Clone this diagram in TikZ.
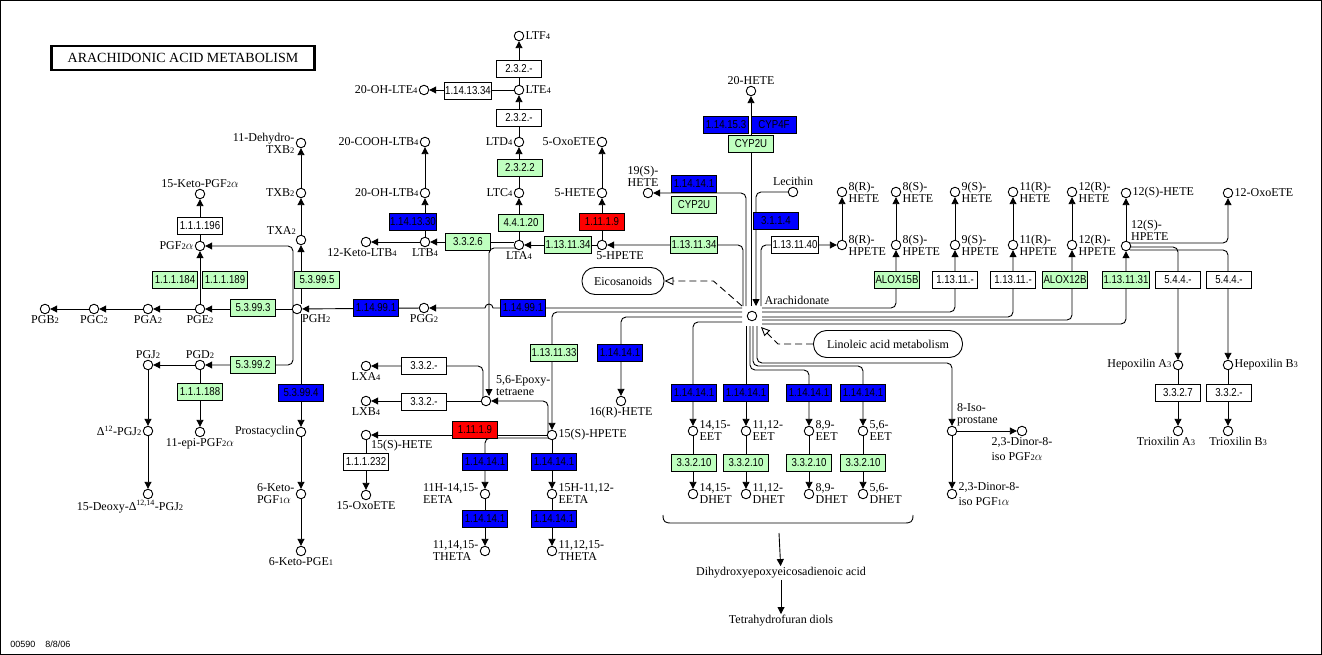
\documentclass[tikz,border=0pt]{standalone}
\usepackage{fontspec}
\setmainfont{Liberation Serif}
\setsansfont{Liberation Sans}
\newfontfamily\enzfam{Liberation Sans}[FakeStretch=0.84]
\usetikzlibrary{arrows.meta,calc,positioning}
\definecolor{kgreen}{HTML}{BFFFBF}
\definecolor{kblue}{HTML}{0000FF}
\definecolor{kred}{HTML}{FF0000}
\newcommand\cpdf{\fontsize{12}{12}\selectfont}
\newcommand\enzf{\enzfam\fontsize{11.5}{11}\selectfont}
\newcommand\dg[1]{{\fontsize{8.5}{8}\selectfont #1}}
\newcommand\alp{$\alpha$}
\tikzset{
  cpd/.style={circle,draw,fill=white,minimum size=9.5pt,inner sep=0pt},
  lab/.style={font=\cpdf,inner sep=1pt},
  ez/.style={draw,fill=white,minimum width=45pt,minimum height=16.5pt,inner sep=1pt,font=\enzf},
  ezg/.style={ez,fill=kgreen},
  ezb/.style={ez,fill=kblue},
  ezr/.style={ez,fill=kred},
  arr/.style={rounded corners=5pt,-{Triangle[length=7pt,width=7pt]}},
  dsh/.style={dashed,dash pattern=on 7pt off 4pt,-{Triangle[open,length=9pt,width=8pt]}},
  mapbox/.style={draw,rounded corners=13pt,minimum height=27pt,font=\cpdf}
}
\begin{document}
\begin{tikzpicture}[x=1pt,y=-1pt,line width=0.9pt]
        \useasboundingbox (0,0) rectangle (1322,655);
        \draw (0.5,0.5) rectangle (1321.5,654.5);
        \node[draw,line width=2.5pt,minimum width=263pt,minimum height=24pt,font=\fontsize{14}{14}\selectfont] (title) at (183,58) {ARACHIDONIC ACID METABOLISM};
        \node[anchor=west,inner sep=0pt,font=\sffamily\fontsize{9}{9}\selectfont] (foot) at (10,644) {00590\hspace{10pt}8/8/06};

        \node[cpd,label={[lab,align=right]left:11-Dehydro-\\TXB\dg{2}}] (dtxb) at (301,143) {};
        \node[cpd,label={[lab]left:TXB\dg{2}}] (txb) at (301,193) {};
        \node[cpd,label={[lab]above left:TXA\dg{2}}] (txa) at (301,240) {};
        \node[cpd,label={[lab]below right:PGH\dg{2}}] (pgh) at (297,309) {};
        \node[cpd,label={[lab]above:15-Keto-PGF\dg{2}\alp}] (kpgf) at (200,194) {};
        \node[cpd,label={[lab]left:PGF\dg{2}\alp}] (pgf) at (200,246) {};
        \node[cpd,label={[lab]below:PGE\dg{2}}] (pge) at (200,309) {};
        \node[cpd,label={[lab]below:PGA\dg{2}}] (pga) at (148,309) {};
        \node[cpd,label={[lab]below:PGC\dg{2}}] (pgc) at (94,309) {};
        \node[cpd,label={[lab]below:PGB\dg{2}}] (pgb) at (45,309) {};
        \node[cpd,label={[lab]above:PGD\dg{2}}] (pgd) at (200,365) {};
        \node[cpd,label={[lab]above:PGJ\dg{2}}] (pgj) at (148,365) {};
        \node[cpd,label={[lab]below:11-epi-PGF\dg{2}\alp}] (epgf) at (200,432) {};
        \node[cpd,label={[lab]left:Δ\textsuperscript{12}-PGJ\dg{2}}] (dpgj) at (148,431) {};
        \node[cpd,label={[lab,xshift=-18pt]below:15-Deoxy-Δ\textsuperscript{12,14}-PGJ\dg{2}}] (ddpgj) at (148,494) {};
        \node[cpd,label={[lab]left:Prostacyclin}] (pgi) at (301,432) {};
        \node[cpd,label={[lab,align=left]left:6-Keto-\\PGF\dg{1}\alp}] (kpgf1) at (301,494) {};
        \node[cpd,label={[lab]below:6-Keto-PGE\dg{1}}] (kpge) at (301,551) {};
        \node[cpd,label={[lab]below:PGG\dg{2}}] (pgg) at (424,308) {};

        \node[cpd,label={[lab]right:LTF\dg{4}}] (ltf) at (519,36) {};
        \node[cpd,label={[lab]right:LTE\dg{4}}] (lte) at (519,90) {};
        \node[cpd,label={[lab]left:20-OH-LTE\dg{4}}] (ohlte) at (424,90) {};
        \node[cpd,label={[lab]left:LTD\dg{4}}] (ltd) at (519,142) {};
        \node[cpd,label={[lab]left:LTC\dg{4}}] (ltc) at (519,193) {};
        \node[cpd,label={[lab]below:LTA\dg{4}}] (lta) at (519,245) {};
        \node[cpd,label={[lab]below:LTB\dg{4}}] (ltb) at (425,242) {};
        \node[cpd,label={[lab,xshift=-4pt]below:12-Keto-LTB\dg{4}}] (kltb) at (366,242) {};
        \node[cpd,label={[lab]left:20-OH-LTB\dg{4}}] (ohltb) at (425,193) {};
        \node[cpd,label={[lab]left:20-COOH-LTB\dg{4}}] (coltb) at (425,142) {};
        \node[cpd,label={[lab]left:5-OxoETE}] (oxo5) at (602,142) {};
        \node[cpd,label={[lab]left:5-HETE}] (hete5) at (602,193) {};
        \node[cpd,label={[lab,xshift=18pt]below:5-HPETE}] (hpete5) at (602,245) {};
        \node[cpd,label={[lab,align=left,xshift=-5pt]above:19(S)-\\HETE}] (hete19) at (648,193) {};
        \node[cpd,label={[lab]above:20-HETE}] (hete20) at (751,91) {};
        \node[cpd,label={[lab]above:Lecithin}] (lec) at (793,192) {};
        \node[cpd,label={[lab,xshift=6pt,yshift=16pt]right:Arachidonate}] (ara) at (752,316) {};

        \foreach \k/\x/\tx in {r8/842/8(R)-,s8/896/8(S)-,s9/955/9(S)-,r11/1013/11(R)-,r12/1072/12(R)-}{
            \node[cpd,label={[lab,align=left]right:\tx\\HETE}] (he\k) at (\x,192) {};
            \node[cpd,label={[lab,align=left]right:\tx\\HPETE}] (hp\k) at (\x,245) {};
            \draw[arr] (hp\k) -- (he\k);
        }
        \node[cpd,label={[lab]right:12(S)-HETE}] (hes12) at (1126,193) {};
        \node[cpd,label={[lab,align=left]above right:12(S)-\\HPETE}] (hps12) at (1126,246) {};
        \node[cpd,label={[lab]right:12-OxoETE}] (oxo12) at (1228,193) {};
        \node[cpd,label={[lab]left:Hepoxilin A\dg{3}}] (hxa) at (1178,365) {};
        \node[cpd,label={[lab]right:Hepoxilin B\dg{3}}] (hxb) at (1228,365) {};
        \node[cpd,label={[lab,xshift=-12pt]below:Trioxilin A\dg{3}}] (tra) at (1178,431) {};
        \node[cpd,label={[lab,xshift=10pt]below:Trioxilin B\dg{3}}] (trb) at (1228,431) {};

        \foreach \k/\x/\tx in {1/693/{14,15-},2/746/{11,12-},3/809/{8,9-},4/863/{5,6-}}{
            \node[cpd,label={[lab,align=left]right:\tx\\EET}] (eet\k) at (\x,431) {};
            \node[cpd,label={[lab,align=left]right:\tx\\DHET}] (dhet\k) at (\x,494) {};
            \draw[arr] (eet\k) -- (dhet\k);
        }
        \node[cpd,label={[lab,align=left]above right:8-Iso-\\prostane}] (isop) at (952,431) {};
        \node[cpd,label={[lab,align=left]below:2,3-Dinor-8-\\[3pt]iso PGF\dg{2}\alp}] (dnf2) at (1022,431) {};
        \node[cpd,label={[lab,align=left]right:2,3-Dinor-8-\\[3pt]iso PGF\dg{1}\alp}] (dnf1) at (952,494) {};

        \node[cpd,label={[lab]below:16(R)-HETE}] (hete16) at (621,401) {};
        \node[cpd,label={[lab]right:15(S)-HPETE}] (hpete15) at (552,435) {};
        \node[cpd,label={[lab,align=left,xshift=5pt]above right:5,6-Epoxy-\\tetraene}] (epox) at (486,401) {};
        \node[cpd,label={[lab]below:LXA\dg{4}}] (lxa) at (366,366) {};
        \node[cpd,label={[lab]below:LXB\dg{4}}] (lxb) at (366,401) {};
        \node[cpd,label={[lab]below right:15(S)-HETE}] (hete15) at (366,435) {};
        \node[cpd,label={[lab]below:15-OxoETE}] (oxo15) at (366,495) {};
        \node[cpd,label={[lab,align=left]left:11H-14,15-\\EETA}] (eeta11) at (485,494) {};
        \node[cpd,label={[lab,align=left]left:11,14,15-\\THETA}] (theta1) at (485,551) {};
        \node[cpd,label={[lab,align=left]right:15H-11,12-\\EETA}] (eeta15) at (552,494) {};
        \node[cpd,label={[lab,align=left]right:11,12,15-\\THETA}] (theta2) at (552,551) {};

        \node[mapbox,minimum width=82pt] (eico) at (623,281) {Eicosanoids};
        \node[mapbox,minimum width=149pt] (lino) at (888,344) {Linoleic acid metabolism};
        \node[lab] (dhea) at (781,573) {Dihydroxyepoxyeicosadienoic acid};
        \node[lab] (thf) at (781,621) {Tetrahydrofuran diols};
        \coordinate (brc) at ($(dhea)+(-2,-40)$);

        \draw[arr] (pgg) -- (pgh);
        \draw[arr] (pgh.north -| txa) -- (txa);
        \draw[arr] (txa) -- (txb);
        \draw[arr] (txb) -- (dtxb);
        \draw[arr] ($(pgh)+(-4,-2)$) |- (pgf);
        \draw[arr] ($(pgh)+(-4,2)$) |- (pgd);
        \draw[arr] (pgh) -- (pge);
        \draw[arr] (pge) -- (pgf);
        \draw[arr] (pgf) -- (kpgf);
        \draw[arr] (pge) -- (pga);
        \draw[arr] (pga) -- (pgc);
        \draw[arr] (pgc) -- (pgb);
        \draw[arr] (pgd) -- (pgj);
        \draw[arr] (pgd) -- (epgf);
        \draw[arr] (pgj) -- (dpgj);
        \draw[arr] (dpgj) -- (ddpgj);
        \draw[arr] (pgh.south -| pgi) -- (pgi);
        \draw[arr] (pgi) -- (kpgf1);
        \draw[arr] (kpgf1) -- (kpge);

        \draw[arr] (lta) -- (ltc);
        \draw[arr] (ltc) -- (ltd);
        \draw[arr] (ltd) -- (lte);
        \draw[arr] (lte) -- (ltf);
        \draw[arr] (lte) -- (ohlte);
        \draw[arr] (lta.west |- ltb) -- (ltb);
        \draw[arr] (ltb) -- (kltb);
        \draw[arr] (ltb) -- (ohltb);
        \draw[arr] (ohltb) -- (coltb);
        \draw[arr] (hpete5) -- (lta);
        \draw[arr] (hpete5) -- (hete5);
        \draw[arr] (hete5) -- (oxo5);

        \draw[arr,sharp corners] ($(ara)+(-10,-8)$) -- ($(epox |- pgg)+(7,0)$) arc[start angle=0,end angle=-180,radius=4] -- (pgg);
        \draw[arr] ($(ara)+(-9,-10)$) |- (hpete5);
        \draw[arr] ($(ara)+(-6,-10)$) |- (hete19);
        \draw[arr] ($(ara)+(-1,-10)$) -- (hete20);
        \draw[arr] (lec) -| ($(ara)+(4,-10)$);
        \draw[arr] ($(ara)+(9,-10)$) |- (hpr8);
        \draw[arr] ($(ara)+(10,-8)$) -| (hps8);
        \draw[arr] ($(ara)+(10,-4)$) -| (hps9);
        \draw[arr] ($(ara)+(10,1)$) -| (hpr11);
        \draw[arr] ($(ara)+(10,4)$) -| (hpr12);
        \draw[arr] ($(ara)+(10,8)$) -| (hps12);
        \draw[arr] ($(ara)+(-10,-4)$) -| (hpete15);
        \draw[arr] ($(ara)+(-10,1)$) -| (hete16);
        \draw[arr] ($(ara)+(-10,6)$) -| (eet1);
        \draw[arr] ($(ara)+(-6,10)$) -- (eet2);
        \draw[arr] ($(ara)+(-2,10)$) |- ($(eet3)+(0,-61)$) -- (eet3);
        \draw[arr] ($(ara)+(1,10)$) |- ($(eet4)+(0,-65)$) -- (eet4);
        \draw[arr] ($(ara)+(5,10)$) |- ($(isop)+(0,-68)$) -- (isop);
        \draw[dsh] ($(ara)+(-10,-10)$) -- ($(eico.east)+(49,0)$) -- (eico);
        \draw[dsh] (lino) -- ($(lino.west)+(-35,0)$) -- ($(ara)+(9,11)$);

        \draw[arr] (hps12) -- (hes12);
        \draw[arr] ($(hps12)+(4,-3)$) -| (oxo12);
        \draw[arr] ($(hps12)+(4,1)$) -| (hxa);
        \draw[arr] ($(hps12)+(4,4)$) -| (hxb);
        \draw[arr] (hxa) -- (tra);
        \draw[arr] (hxb) -- (trb);
        \draw[arr] (isop) -- (dnf2);
        \draw[arr] (isop) -- (dnf1);

        \draw[arr] ($(hpete15)+(-4,-2)$) |- (epox);
        \draw[arr] ($(lta)+(-4,3)$) -| ($(epox)+(3,-5)$);
        \draw[arr] ($(epox)+(-3,-4)$) |- (lxa);
        \draw[arr] (epox) -- (lxb);
        \draw[arr] (hpete15) -- (hete15);
        \draw[arr] (hete15) -- (oxo15);
        \draw[arr] ($(hpete15)+(-4,3)$) -| (eeta11);
        \draw[arr] (hpete15) -- (eeta15);
        \draw[arr] (eeta11) -- (theta1);
        \draw[arr] (eeta15) -- (theta2);

        \draw (663,515) .. controls (663,522) and (665,523) .. (672,523) -- (904,523) .. controls (911,523) and (913,522) .. (913,515);
        \draw[arr] (brc) -- (dhea);
        \draw[arr] (dhea) -- (thf);

        \foreach \x/\y/\tx [count=\i] in {200/226/1.1.1.196,519/69/2.3.2.-,468/91/1.14.13.34,519/118/2.3.2.-,795/245/1.13.11.40,955/280/1.13.11.-,1013/280/1.13.11.-,1178/280/5.4.4.-,1229/280/5.4.4.-,1178/393/3.3.2.7,1229/393/3.3.2.-,424/366/3.3.2.-,424/402/3.3.2.-,366/462/1.1.1.232}
            \node[ez] (w\i) at (\x,\y) {\tx};
        \foreach \x/\y/\tx [count=\i] in {175/280/1.1.1.184,225/280/1.1.1.189,317/280/5.3.99.5,253/308/5.3.99.3,253/365/5.3.99.2,200/392/1.1.1.188,520/168/2.3.2.2,521/223/4.4.1.20,468/242/3.3.2.6,568/245/1.13.11.34,694/245/1.13.11.34,694/205/CYP2U,751/144/CYP2U,897/280/ALOX15B,1065/280/ALOX12B,1126/280/1.13.11.31,554/353/1.13.11.33,694/463/3.3.2.10,746/463/3.3.2.10,809/463/3.3.2.10,863/463/3.3.2.10}
            \node[ezg] (g\i) at (\x,\y) {\tx};
        \foreach \x/\y/\tx [count=\i] in {376/308/1.14.99.1,523/308/1.14.99.1,301/393/5.3.99.4,413/222/1.14.13.30,694/184/1.14.14.1,726/125/1.14.15.3,774/125/CYP4F,776/221/3.1.1.4,694/393/1.14.14.1,746/393/1.14.14.1,809/393/1.14.14.1,863/393/1.14.14.1,620/353/1.14.14.1,485/462/1.14.14.1,485/519/1.14.14.1,554/462/1.14.14.1,554/519/1.14.14.1}
            \node[ezb] (b\i) at (\x,\y) {\tx};
        \foreach \x/\y/\tx [count=\i] in {602/222/1.11.1.9,475/430/1.11.1.9}
            \node[ezr] (r\i) at (\x,\y) {\tx};
\end{tikzpicture}
\end{document}
